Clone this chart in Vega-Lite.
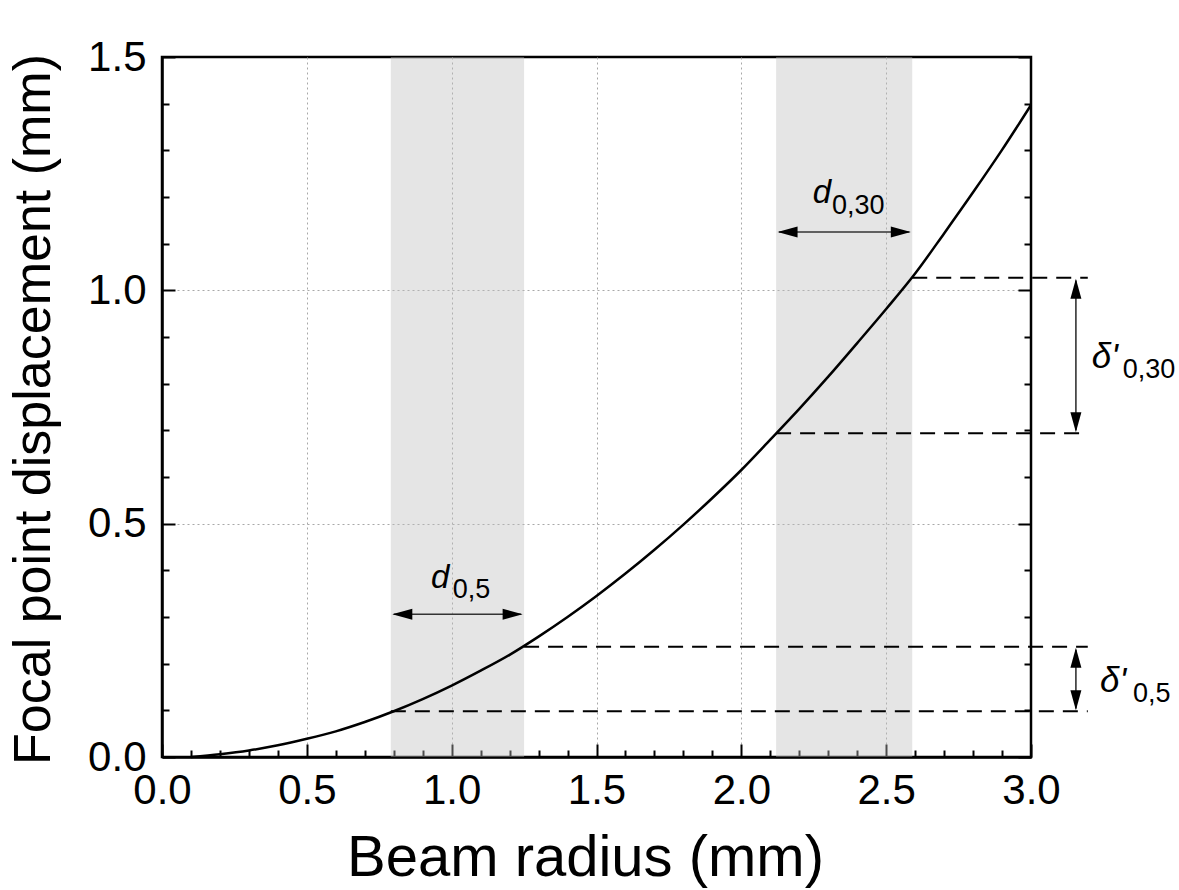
{
  "$schema": "https://vega.github.io/schema/vega-lite/v6.json",
  "width": 869,
  "height": 700,
  "autosize": {"type": "none"},
  "padding": {"left": 162, "top": 57, "right": 148, "bottom": 133},
  "background": "white",
  "config": {
    "view": {"stroke": "black", "strokeWidth": 2.5},
    "font": "Liberation Sans",
    "axis": {
      "labelFont": "Liberation Sans",
      "titleFont": "Liberation Sans",
      "labelColor": "black",
      "titleColor": "black",
      "titleFontWeight": "normal",
      "domainColor": "black",
      "domainWidth": 2.5,
      "tickColor": "black",
      "tickWidth": 2,
      "labelOverlap": false,
      "labelFlush": false,
      "labelBound": false
    }
  },
  "resolve": {"axis": {"y": "independent"}},
  "layer": [
    {
      "data": {"values": [{"x": 0.79, "x2": 1.25}, {"x": 2.12, "x2": 2.59}]},
      "mark": {"type": "rect", "color": "#bdbdbd", "opacity": 0.4, "clip": true},
      "encoding": {
        "x": {"field": "x", "type": "quantitative", "scale": {"domain": [0, 3]}},
        "x2": {"field": "x2"}
      }
    },
    {
      "data": {"values": [
        {"x": 0.1, "y": 0.0}, {"x": 0.2, "y": 0.006}, {"x": 0.3, "y": 0.014}, {"x": 0.4, "y": 0.025},
        {"x": 0.5, "y": 0.039}, {"x": 0.6, "y": 0.055}, {"x": 0.7, "y": 0.075}, {"x": 0.8, "y": 0.098},
        {"x": 0.9, "y": 0.124}, {"x": 1.0, "y": 0.153}, {"x": 1.1, "y": 0.185}, {"x": 1.2, "y": 0.219},
        {"x": 1.3, "y": 0.258}, {"x": 1.4, "y": 0.300}, {"x": 1.5, "y": 0.345}, {"x": 1.6, "y": 0.393},
        {"x": 1.7, "y": 0.444}, {"x": 1.8, "y": 0.498}, {"x": 1.9, "y": 0.555}, {"x": 2.0, "y": 0.615},
        {"x": 2.1, "y": 0.680}, {"x": 2.2, "y": 0.746}, {"x": 2.3, "y": 0.815}, {"x": 2.4, "y": 0.887},
        {"x": 2.5, "y": 0.960}, {"x": 2.6, "y": 1.036}, {"x": 2.7, "y": 1.122}, {"x": 2.8, "y": 1.210},
        {"x": 2.9, "y": 1.301}, {"x": 3.0, "y": 1.397}
      ]},
      "mark": {"type": "line", "color": "black", "strokeWidth": 2.5, "interpolate": "monotone"},
      "encoding": {
        "x": {
          "field": "x", "type": "quantitative", "scale": {"domain": [0, 3]},
          "axis": {
            "orient": "bottom",
            "title": "Beam radius (mm)",
            "titleFontSize": 58,
            "titleX": 423,
            "titleY": 118,
            "titleBaseline": "alphabetic",
            "values": [0, 0.1, 0.2, 0.3, 0.4, 0.5, 0.6, 0.7, 0.8, 0.9, 1.0, 1.1, 1.2, 1.3, 1.4, 1.5, 1.6, 1.7, 1.8, 1.9, 2.0, 2.1, 2.2, 2.3, 2.4, 2.5, 2.6, 2.7, 2.8, 2.9, 3.0],
            "tickCount": 100,
            "labelExpr": "abs(datum.value * 2 - round(datum.value * 2)) < 0.001 ? format(datum.value, '.1f') : ''",
            "labelOverlap": false,
            "labelFontSize": 42,
            "labelPadding": 26,
            "tickSize": {"condition": {"test": "abs(datum.value * 2 - round(datum.value * 2)) < 0.001", "value": -13}, "value": -7},
            "grid": true,
            "gridColor": "#a8a8a8",
            "gridDash": [2, 3],
            "gridWidth": 1,
            "gridOpacity": {"condition": {"test": "abs(datum.value * 2 - round(datum.value * 2)) < 0.001 && datum.value > 0.01 && datum.value < 2.99", "value": 1}, "value": 0}
          }
        },
        "y": {
          "field": "y", "type": "quantitative", "scale": {"domain": [0, 1.5]},
          "axis": {
            "orient": "left",
            "title": "Focal point displacement (mm)",
            "titleFontSize": 52,
            "titleX": -113,
            "titleY": 352,
            "titleAngle": -90,
            "titleBaseline": "alphabetic",
            "titleAlign": "center",
            "values": [0, 0.1, 0.2, 0.3, 0.4, 0.5, 0.6, 0.7, 0.8, 0.9, 1.0, 1.1, 1.2, 1.3, 1.4, 1.5],
            "tickCount": 100,
            "labelExpr": "abs(datum.value * 2 - round(datum.value * 2)) < 0.001 ? format(datum.value, '.1f') : ''",
            "labelOverlap": false,
            "labelFontSize": 42,
            "labelPadding": 29,
            "tickSize": {"condition": {"test": "abs(datum.value * 2 - round(datum.value * 2)) < 0.001", "value": -13}, "value": -7},
            "grid": true,
            "gridColor": "#a8a8a8",
            "gridDash": [2, 3],
            "gridWidth": 1,
            "gridOpacity": {"condition": {"test": "abs(datum.value * 2 - round(datum.value * 2)) < 0.001 && datum.value > 0.01 && datum.value < 1.49", "value": 1}, "value": 0}
          }
        }
      }
    },
    {
      "data": {"values": [
        {"x": 0.79, "x2": 3.196, "y": 0.098},
        {"x": 1.25, "x2": 3.196, "y": 0.236},
        {"x": 2.12, "x2": 3.196, "y": 0.694},
        {"x": 2.59, "x2": 3.196, "y": 1.027}
      ]},
      "mark": {"type": "rule", "color": "black", "strokeWidth": 2, "strokeDash": [15, 9], "clip": false},
      "encoding": {
        "x": {"field": "x", "type": "quantitative", "scale": {"domain": [0, 3]}},
        "x2": {"field": "x2"},
        "y": {
          "field": "y", "type": "quantitative", "scale": {"domain": [0, 1.5]},
          "axis": {
            "orient": "right",
            "title": null,
            "labels": false,
            "domain": false,
            "grid": false,
            "values": [0, 0.1, 0.2, 0.3, 0.4, 0.5, 0.6, 0.7, 0.8, 0.9, 1.0, 1.1, 1.2, 1.3, 1.4, 1.5],
            "tickCount": 100,
            "tickSize": {"condition": {"test": "abs(datum.value * 2 - round(datum.value * 2)) < 0.001", "value": -13}, "value": -7}
          }
        }
      }
    },
    {
      "data": {"values": [
        {"x": 0.80, "x2": 1.24, "y": 0.306, "y2": 0.306},
        {"x": 2.13, "x2": 2.58, "y": 1.125, "y2": 1.125},
        {"x": 3.155, "x2": 3.155, "y": 0.700, "y2": 1.021},
        {"x": 3.155, "x2": 3.155, "y": 0.104, "y2": 0.230}
      ]},
      "mark": {"type": "rule", "color": "#333333", "strokeWidth": 1.6, "clip": false},
      "encoding": {
        "x": {"field": "x", "type": "quantitative", "scale": {"domain": [0, 3]}},
        "x2": {"field": "x2"},
        "y": {"field": "y", "type": "quantitative", "scale": {"domain": [0, 1.5]}, "axis": null},
        "y2": {"field": "y2"}
      }
    },
    {
      "data": {"values": [
        {"x": 0.795, "y": 0.306, "dir": "left"},
        {"x": 1.245, "y": 0.306, "dir": "right"},
        {"x": 2.125, "y": 1.125, "dir": "left"},
        {"x": 2.585, "y": 1.125, "dir": "right"},
        {"x": 3.155, "y": 1.025, "dir": "up"},
        {"x": 3.155, "y": 0.696, "dir": "down"},
        {"x": 3.155, "y": 0.234, "dir": "up"},
        {"x": 3.155, "y": 0.100, "dir": "down"}
      ]},
      "mark": {"type": "point", "filled": true, "opacity": 1, "color": "black", "size": 400, "strokeWidth": 0, "clip": false},
      "encoding": {
        "x": {"field": "x", "type": "quantitative", "scale": {"domain": [0, 3]}},
        "y": {"field": "y", "type": "quantitative", "scale": {"domain": [0, 1.5]}, "axis": null},
        "shape": {
          "field": "dir", "type": "nominal", "legend": null,
          "scale": {
            "domain": ["left", "right", "up", "down"],
            "range": ["M0,0L2,-0.55L2,0.55Z", "M0,0L-2,-0.55L-2,0.55Z", "M0,0L-0.55,2L0.55,2Z", "M0,0L-0.55,-2L0.55,-2Z"]
          }
        }
      }
    },
    {
      "data": {"values": [
        {"x": 0.96, "y": 0.362, "t": "d"},
        {"x": 2.278, "y": 1.187, "t": "d"}
      ]},
      "mark": {"type": "text", "font": "Liberation Sans", "fontStyle": "italic", "fontSize": 33, "align": "center", "baseline": "alphabetic", "color": "black", "clip": false},
      "encoding": {
        "x": {"field": "x", "type": "quantitative", "scale": {"domain": [0, 3]}},
        "y": {"field": "y", "type": "quantitative", "scale": {"domain": [0, 1.5]}, "axis": null},
        "text": {"field": "t"}
      }
    },
    {
      "data": {"values": [
        {"x": 3.21, "y": 0.8335, "t": "δ'"},
        {"x": 3.238, "y": 0.139, "t": "δ'"}
      ]},
      "mark": {"type": "text", "font": "Liberation Sans", "fontStyle": "italic", "fontSize": 35, "align": "left", "baseline": "alphabetic", "color": "black", "clip": false},
      "encoding": {
        "x": {"field": "x", "type": "quantitative", "scale": {"domain": [0, 3]}},
        "y": {"field": "y", "type": "quantitative", "scale": {"domain": [0, 1.5]}, "axis": null},
        "text": {"field": "t"}
      }
    },
    {
      "data": {"values": [
        {"x": 1.004, "y": 0.341, "t": "0,5"},
        {"x": 2.313, "y": 1.164, "t": "0,30"},
        {"x": 3.317, "y": 0.812, "t": "0,30"},
        {"x": 3.352, "y": 0.118, "t": "0,5"}
      ]},
      "mark": {"type": "text", "font": "Liberation Sans", "fontSize": 27, "align": "left", "baseline": "alphabetic", "color": "black", "clip": false},
      "encoding": {
        "x": {"field": "x", "type": "quantitative", "scale": {"domain": [0, 3]}},
        "y": {"field": "y", "type": "quantitative", "scale": {"domain": [0, 1.5]}, "axis": null},
        "text": {"field": "t"}
      }
    }
  ]
}
